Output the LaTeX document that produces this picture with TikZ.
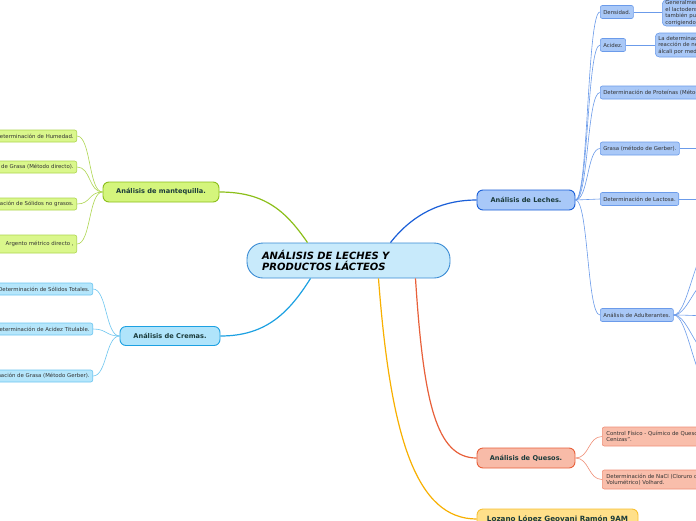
\documentclass[tikz,border=0pt]{standalone}
\usepackage{fontspec}
\setmainfont{DejaVu Sans}
\usetikzlibrary{calc}
\definecolor{cenfill}{HTML}{C8EAFB}
\definecolor{cenline}{HTML}{3A8BD4}
\definecolor{lfill}{HTML}{A8C8F8}
\definecolor{lline}{HTML}{1A5FD8}
\definecolor{lkfill}{HTML}{A9C8F7}
\definecolor{lkline}{HTML}{6B9BEA}
\definecolor{mfill}{HTML}{D4F57C}
\definecolor{mline}{HTML}{8CBF1A}
\definecolor{mkfill}{HTML}{DAF78C}
\definecolor{mkline}{HTML}{AED650}
\definecolor{cfill}{HTML}{B0E4FB}
\definecolor{cline}{HTML}{1DA1E2}
\definecolor{ckfill}{HTML}{B5E6FB}
\definecolor{ckline}{HTML}{6DC6F0}
\definecolor{qfill}{HTML}{F8BBA8}
\definecolor{qline}{HTML}{E8603A}
\definecolor{qkfill}{HTML}{F9BEAB}
\definecolor{qkline}{HTML}{F09078}
\definecolor{zfill}{HTML}{FFE08A}
\definecolor{zline}{HTML}{F8C030}
\definecolor{zbr}{HTML}{F8B000}
\definecolor{tdark}{HTML}{1B3B3B}
\definecolor{kidtext}{HTML}{333333}
\tikzset{
  mainbox/.style={draw, rounded corners=6pt, line width=0.9pt, minimum height=20pt, inner sep=0pt,
    font=\fontsize{6.6}{8}\selectfont\bfseries, text=tdark},
  kid/.style={draw, rounded corners=2pt, line width=0.6pt, minimum height=13pt, inner xsep=3pt,
    inner ysep=0pt, font=\fontsize{5.4}{6.4}\selectfont, text=kidtext, align=left},
  br/.style={line width=1.2pt},
  tw/.style={line width=0.6pt},
}
\begin{document}
\begin{tikzpicture}[x=1pt,y=-1pt]
\useasboundingbox (0,0) rectangle (696,520);
\fill[white] (0,0) rectangle (696,520);
\clip (0,0) rectangle (696,520);

% central
\node[mainbox, fill=cenfill, draw=cenline, rounded corners=16pt, minimum width=203pt, minimum height=35pt,
  text width=173pt, align=left, inner xsep=15pt, font=\fontsize{10}{11.8}\selectfont\bfseries\itshape, text=black]
  (c) at (348.5,260.5) {ANÁLISIS DE LECHES Y\\PRODUCTOS LÁCTEOS};

% main branches
\node[mainbox, fill=lfill, draw=lline, minimum width=98pt] (lec) at (526,200) {Análisis de Leches.};
\node[mainbox, fill=mfill, draw=mline, minimum width=116pt] (man) at (161,192) {Análisis de mantequilla.};
\node[mainbox, fill=cfill, draw=cline, minimum width=100pt, minimum height=19pt] (cre) at (170,336) {Análisis de Cremas.};
\node[mainbox, fill=qfill, draw=qline, minimum width=98pt] (que) at (526,458) {Análisis de Quesos.};
\node[mainbox, fill=zfill, draw=zline, minimum width=161pt, font=\fontsize{7.2}{8}\selectfont\bfseries] (loz) at (557.5,519) {Lozano López Geovani Ramón 9AM};

\coordinate (cl) at ($(c.north)+(42,0)$);
\coordinate (cm) at ($(c.north)+(-41,0)$);
\coordinate (cc) at ($(c.south)+(-38,0)$);
\coordinate (cq) at ($(c.south)+(67,0)$);
\coordinate (cz) at ($(c.south)+(30,0)$);
\draw[br, lline] (cl) .. controls +(25,-32) and +(-30,0) .. (lec.west);
\draw[br, mline] (cm) .. controls +(-22,-32) and +(45,0) .. (man.east);
\draw[br, cline] (cc) .. controls +(-22,35) and +(45,0) .. (cre.east);
\draw[br, qline] (cq) .. controls +(8,125) and +(-40,0) .. (que.west);
\draw[br, zbr] (cz) .. controls +(12,160) and +(-60,0) .. (loz.west);

% leches children
\node[kid, fill=lkfill, draw=lkline, anchor=west] (dens) at (600,12) {Densidad.};
\node[kid, fill=lkfill, draw=lkline, anchor=west] (acid) at (600,45) {Acidez.};
\node[kid, fill=lkfill, draw=lkline, anchor=west] (prot) at (600,92.5) {Determinación de Proteínas (Método};
\node[kid, fill=lkfill, draw=lkline, anchor=west] (gras) at (600,148.5) {Grasa (método de Gerber).};
\node[kid, fill=lkfill, draw=lkline, anchor=west] (lact) at (600,199) {Determinación de Lactosa.};
\node[kid, fill=lkfill, draw=lkline, anchor=west] (adul) at (600,315) {Análisis de Adulterantes.};
\node[kid, fill=lkfill, draw=lkline, anchor=west, minimum height=26pt, rounded corners=4pt] (gen) at (662,13)
  {Generalmente se\\el lactodensímetro\\también puede\\corrigiendo};
\node[kid, fill=lkfill, draw=lkline, anchor=west, minimum height=24pt, rounded corners=4pt] (ladet) at (655,45)
  {La determinación\\reacción de neutra\\álcali por medio};
\foreach \k in {dens,acid,prot,gras,lact,adul}
  \draw[tw, lkline] (lec.east) .. controls +(13,0) and +(-13,0) .. (\k.west);
\draw[tw, lkline] (dens.east) -- (gen.west |- dens.east);
\draw[tw, lkline] (acid.east) -- (ladet.west |- acid.east);
\coordinate (g2) at (710,148.5);
\coordinate (l2) at (710,199);
\draw[tw, lkline] (gras.east) -- (g2);
\draw[tw, lkline] (lact.east) -- (l2);
\coordinate (a1) at (722,232);
\coordinate (a2) at (722,272);
\coordinate (a3) at (722,316);
\coordinate (a4) at (722,362);
\coordinate (a5) at (722,402);
\foreach \a in {a1,a2,a3,a4,a5}
  \draw[tw, lkline] (adul.east) .. controls +(16,0) and +(-26,0) .. (\a);

% mantequilla children
\node[kid, fill=mkfill, draw=mkline, anchor=east, minimum height=12pt] (m1) at (77,136) {Determinación de Humedad.};
\node[kid, fill=mkfill, draw=mkline, anchor=east, minimum height=12pt] (m2) at (77,167) {Determinación de Grasa (Método directo).};
\node[kid, fill=mkfill, draw=mkline, anchor=east, minimum height=12pt] (m3) at (77,204) {Determinación de Sólidos no grasos.};
\node[kid, fill=mkfill, draw=mkline, anchor=east, minimum height=18pt, text width=95pt, align=right] (m4) at (77,244) {Argento métrico directo ,};
\foreach \k in {m1,m2,m3,m4}
  \draw[tw, mkline] (man.west) .. controls +(-14,0) and +(14,0) .. (\k.east);

% cremas children
\node[kid, fill=ckfill, draw=ckline, anchor=east, minimum height=12pt] (s1) at (93,289) {Determinación de Sólidos Totales.};
\node[kid, fill=ckfill, draw=ckline, anchor=east, minimum height=12pt] (s2) at (93,329) {Determinación de Acidez Titulable.};
\node[kid, fill=ckfill, draw=ckline, anchor=east, minimum height=12pt] (s3) at (93,376) {Determinación de Grasa (Método Gerber).};
\foreach \k in {s1,s2,s3}
  \draw[tw, ckline] (cre.west) .. controls +(-14,0) and +(14,0) .. (\k.east);

% quesos children
\node[kid, fill=qkfill, draw=qkline, anchor=west, minimum height=19pt, inner xsep=4pt] (q1) at (602,436.5)
  {Control Físico - Químico de Quesos:\\Cenizas".};
\node[kid, fill=qkfill, draw=qkline, anchor=west, minimum height=19pt, inner xsep=4pt] (q2) at (602,479.5)
  {Determinación de NaCl (Cloruro de\\Volumétrico) Volhard.};
\foreach \k in {q1,q2}
  \draw[tw, qkline] (que.east) .. controls +(14,0) and +(-14,0) .. (\k.west);
\end{tikzpicture}
\end{document}
